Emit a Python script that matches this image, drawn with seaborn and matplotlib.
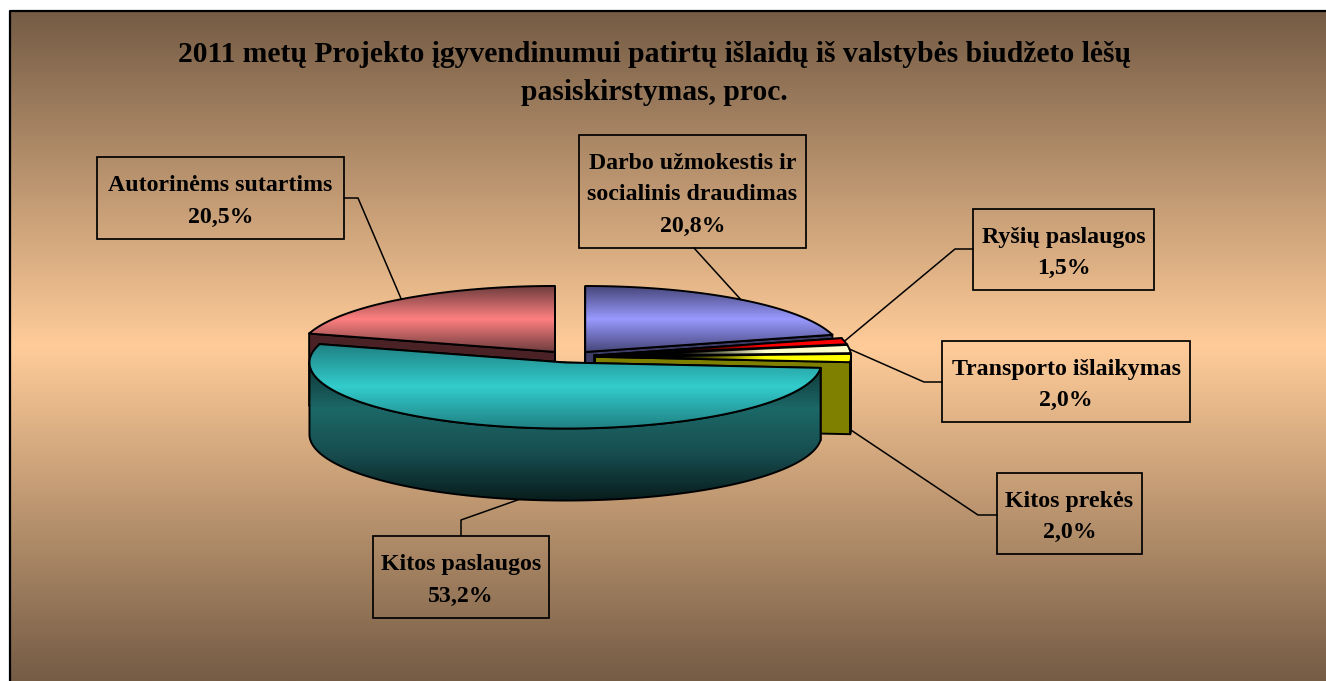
import numpy as np
import seaborn as sns
import matplotlib
matplotlib.use('Agg')
import matplotlib.pyplot as plt
from matplotlib.patches import Polygon, Rectangle

# values from the chart, percent
categories = ['Darbo užmokestis ir\nsocialinis draudimas', 'Ryšių paslaugos', 'Transporto išlaikymas',
              'Kitos prekės', 'Kitos paslaugos', 'Autorinėms sutartims']
values = [20.8, 1.5, 2.0, 2.0, 53.2, 20.5]
title = '2011 metų Projekto įgyvendinumui patirtų išlaidų iš valstybės biudžeto lėšų\npasiskirstymas, proc.'

# label boxes in pixels: left, top, right, bottom
boxes = [(579, 135, 806, 248), (973, 209, 1154, 290), (942, 341, 1190, 422),
         (997, 473, 1142, 554), (373, 536, 549, 618), (97, 157, 344, 239)]
# where the leader leaves the box, then its elbow
leader_start = [(694, 248), (973, 249), (942, 382), (997, 515), (461, 536), (344, 198)]
leader_elbow = [None, (955, 249), (924, 382), (978, 515), (461, 520), (358, 198)]

# top colour (dark, bright), wall colour for each slice
top_colors = [('#46467a', '#9999ff'), ('#000000', '#ff0000'), ('#000000', '#ffffcc'),
              ('#000000', '#ffff00'), ('#1f8082', '#33cccc'), ('#6e3c3e', '#ff8080')]
wall_colors = ['#3c3c66', '#600000', '#55553c', '#808000', '#1c6868', '#4a2226']
draw_order = [5, 0, 1, 2, 3, 4]

# pie geometry in pixels
CX, CY = 570, 356.7
RX, RY = 256, 66
DEPTH = 72
EXPL_X, EXPL_Y = 25, 5.93

sns.set_theme(style='white')
plt.rcParams['font.family'] = ['Liberation Serif', 'DejaVu Serif']

fig = plt.figure(figsize=(13.26, 6.81), dpi=100, facecolor='white')
ax = fig.add_axes([0, 0, 1, 1])
ax.set_axis_off()


def gradient_fill(pts, cmap, zorder, horizontal=False):
    # polygon filled with a gradient along its bounding box, black outline on top
    pts = np.array(pts)
    x0, y0 = pts.min(axis=0)
    x1, y1 = pts.max(axis=0)
    grad = np.linspace(0, 1, 256).reshape(1, -1) if horizontal else np.linspace(0, 1, 256).reshape(-1, 1)
    im = ax.imshow(grad, extent=[x0, x1, y1, y0], cmap=cmap, aspect='auto', zorder=zorder, interpolation='bilinear')
    outline = Polygon(pts, closed=True, facecolor='none', edgecolor='black', lw=1.4, zorder=zorder + 0.1, joinstyle='round')
    ax.add_patch(outline)
    im.set_clip_path(outline)


# background, dark at both ends, brightest in the middle
bg_cmap = sns.blend_palette(['#755c45', '#ffcc99', '#755c45'], n_colors=256, as_cmap=True)
ax.imshow(np.linspace(0, 1, 256).reshape(-1, 1), extent=[10, 1326, 681, 11], cmap=bg_cmap, aspect='auto', zorder=0)
ax.plot([10, 10, 1326], [681, 11, 11], color='black', lw=1.6, zorder=1)

# cumulative angles, clockwise from 12 o'clock
shares = np.array(values) / sum(values) * 360
ends = np.cumsum(shares)
starts = ends - shares
mids = np.radians((starts + ends) / 2)
anchors = [None] * len(values)

z = 2
for i in draw_order:
    mid = mids[i]
    cx = CX + EXPL_X * np.sin(mid)
    cy = CY - EXPL_Y * np.cos(mid)
    t = np.radians(np.linspace(starts[i], ends[i], 200))
    xs = cx + RX * np.sin(t)
    ys = cy - RY * np.cos(t)
    top = [(cx, cy)] + list(zip(xs, ys))

    # flat cut faces first, then the rim, then the top
    wall_c = wall_colors[i]
    for k in (0, -1):
        face = [(cx, cy), (xs[k], ys[k]), (xs[k], ys[k] + DEPTH), (cx, cy + DEPTH)]
        ax.add_patch(Polygon(face, closed=True, facecolor=wall_c, edgecolor='black', lw=1.4, zorder=z))
        z += 1
    front = np.cos(t) < 0
    if front.sum() > 1:
        rim = list(zip(xs[front], ys[front])) + list(zip(xs[front][::-1], ys[front][::-1] + DEPTH))
        if categories[i] == 'Kitos paslaugos':
            rim_cmap = sns.blend_palette(['#103434', '#1c6868', '#174c4e', '#081c1c'], n_colors=256, as_cmap=True)
            gradient_fill(rim, rim_cmap, z)
        else:
            ax.add_patch(Polygon(rim, closed=True, facecolor=wall_c, edgecolor='black', lw=1.4, zorder=z))
        z += 1

    dark, bright = top_colors[i]
    if dark == '#000000':
        cmap = sns.blend_palette([dark, dark, bright, bright], n_colors=256, as_cmap=True)
        gradient_fill(top, cmap, z, horizontal=True)
    else:
        cmap = sns.blend_palette([dark, bright, dark], n_colors=256, as_cmap=True)
        gradient_fill(top, cmap, z)
    z += 1

    # leader ends on the rim at the middle of the slice
    ax_x = cx + RX * np.sin(mid)
    ax_y = cy - RY * np.cos(mid)
    if np.cos(mid) < 0 or categories[i] == 'Kitos prekės':
        ax_y += DEPTH
    anchors[i] = (ax_x, ax_y)

# labels with their leaders
for i, name in enumerate(categories):
    l, t, r, b = boxes[i]
    ax.add_patch(Rectangle((l, t), r - l, b - t, facecolor='none', edgecolor='black', lw=1.25, zorder=z))
    label = name + '\n' + f'{values[i]:.1f}%'.replace('.', ',')
    ax.text((l + r) / 2, (t + b) / 2 + 3.5, label, ha='center', va='center', fontsize=17.2,
            fontweight='bold', color='black', linespacing=1.65, zorder=z)
    path = [leader_start[i]] + ([leader_elbow[i]] if leader_elbow[i] else []) + [anchors[i]]
    ax.plot(*zip(*path), color='black', lw=1.1, zorder=z, solid_capstyle='round')

ax.text(654, 73.5, title, ha='center', va='center', fontsize=21.3, fontweight='bold', color='black',
        linespacing=1.5, zorder=z)

ax.set_xlim(0, 1326)
ax.set_ylim(681, 0)
fig.savefig('out.png', dpi=100)
